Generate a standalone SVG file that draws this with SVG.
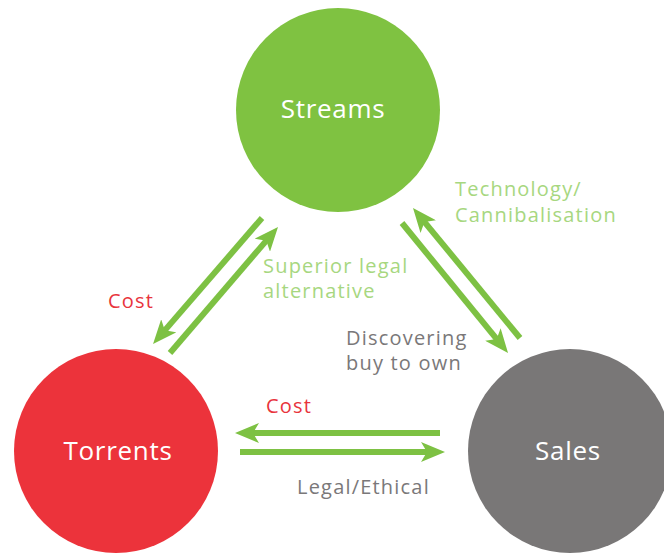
<svg xmlns="http://www.w3.org/2000/svg" width="664" height="554" viewBox="0 0 664 554">
<style>
.node-label{font-family:"Open Sans","Lato",sans-serif;font-size:26px;fill:#ffffff;text-anchor:middle;letter-spacing:0.7px}
.lbl{font-family:"Open Sans","Lato",sans-serif;font-size:20px;letter-spacing:1.2px}
.g{fill:#a7d780}
.r{fill:#e8343c}
.k{fill:#7a7879}
.conn{stroke:#7dc143;stroke-width:6;fill:none}
</style>
<defs>
<marker id="ah" markerUnits="userSpaceOnUse" markerWidth="24" markerHeight="20" refX="10" refY="10" orient="auto">
<path d="M0,0 L24,10 L0,20 L6,10 z" fill="#7dc143"/>
</marker>
</defs>
<rect width="664" height="554" fill="#ffffff"/>
<g id="streams">
<circle cx="338" cy="110" r="102" fill="#7fc241"/>
<text class="node-label" x="333" y="118">Streams</text>
</g>
<g id="torrents">
<circle cx="116" cy="451" r="102" fill="#ec333b"/>
<text class="node-label" x="118" y="460">Torrents</text>
</g>
<g id="sales">
<circle cx="570" cy="451" r="102" fill="#797777"/>
<text class="node-label" x="568" y="460">Sales</text>
</g>
<g id="connectors">
<line class="conn" x1="262" y1="218" x2="162.2" y2="333.4" marker-end="url(#ah)"/>
<line class="conn" x1="170" y1="353" x2="268.9" y2="237.6" marker-end="url(#ah)"/>
<line class="conn" x1="402" y1="223" x2="499.2" y2="342.2" marker-end="url(#ah)"/>
<line class="conn" x1="520" y1="338" x2="421.9" y2="218.8" marker-end="url(#ah)"/>
<line class="conn" x1="440" y1="433" x2="249" y2="433" marker-end="url(#ah)"/>
<line class="conn" x1="240" y1="452" x2="431" y2="452" marker-end="url(#ah)"/>
</g>
<g id="labels">
<text class="lbl g" x="455" y="196">Technology/</text>
<text class="lbl g" x="455" y="222">Cannibalisation</text>
<text class="lbl g" x="263" y="273">Superior legal</text>
<text class="lbl g" x="263" y="298">alternative</text>
<text class="lbl r" x="108" y="308">Cost</text>
<text class="lbl k" x="346" y="345">Discovering</text>
<text class="lbl k" x="346" y="370">buy to own</text>
<text class="lbl r" x="266" y="413">Cost</text>
<text class="lbl k" x="297" y="494">Legal/Ethical</text>
</g>
</svg>
